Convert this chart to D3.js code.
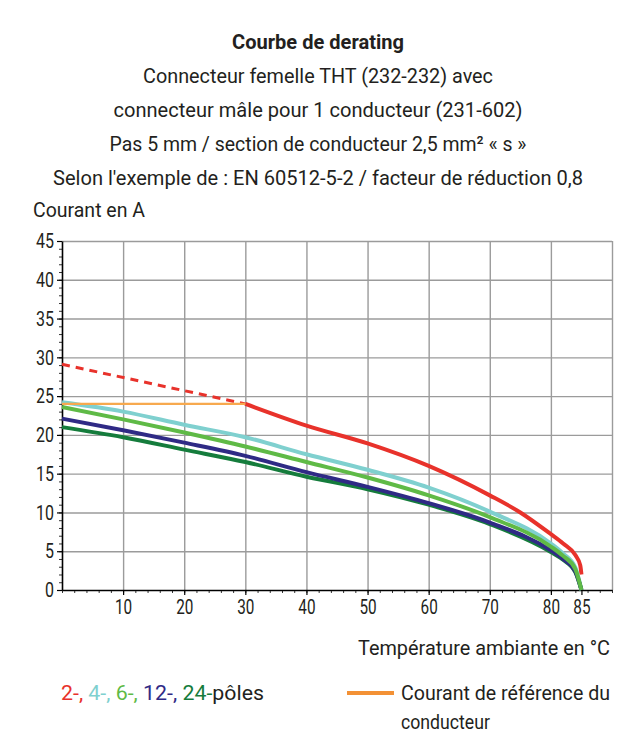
<!DOCTYPE html>
<html>
<head>
<meta charset="utf-8">
<script src="https://cdn.jsdelivr.net/npm/d3@7"></script>
<style>
  body { margin: 0; background: #fff; }
  text { font-family: Roboto, "Liberation Sans", sans-serif; fill: #231f20; }
</style>
</head>
<body>
<div id="chart"></div>
<script>
// data
var xTicks = [10, 20, 30, 40, 50, 60, 70, 80, 85];
var yTicks = [0, 5, 10, 15, 20, 25, 30, 35, 40, 45];

var redDashTemps = [0, 30];
var redDashValues = [29.1, 24.0];
var redTemps = [30, 40, 50, 60, 70, 75, 80, 82, 84, 84.8, 85];
var redValues = [24.0, 21.2, 18.9, 16.0, 12.2, 10.0, 7.2, 6.0, 4.5, 3.2, 2.0];

var poleTemps = [0, 10, 20, 30, 40, 50, 60, 70, 80, 82, 84, 85];
var cyanValues = [24.2, 23.0, 21.3, 19.7, 17.5, 15.5, 13.2, 10.1, 6.0, 4.7, 2.9, 0];
var greenValues = [23.6, 22.0, 20.3, 18.5, 16.5, 14.5, 12.2, 9.4, 5.6, 4.4, 2.7, 0];
var blueValues = [22.1, 20.6, 19.0, 17.3, 15.2, 13.3, 11.2, 8.7, 5.1, 4.0, 2.4, 0];
var darkGreenValues = [21.0, 19.7, 18.1, 16.5, 14.6, 13.0, 11.0, 8.5, 4.9, 3.9, 2.3, 0];

var refTemps = [0, 30];
var refValues = [24, 24];

var titleLines = [
    "Connecteur femelle THT (232-232) avec",
    "connecteur mâle pour 1 conducteur (231-602)",
    "Pas 5 mm / section de conducteur 2,5 mm² « s »",
    "Selon l'exemple de : EN 60512-5-2 / facteur de réduction 0,8"
];
var titleWidths = [350, 409, 417, 530];

var RED = "#e8322b", CYAN = "#7fd0cf", GREEN = "#5fba46", BLUE = "#2f2a85", DKGREEN = "#157c3c", ORANGE = "#f7a94e";
var FS = 21;

document.addEventListener("DOMContentLoaded", function () {
    drawChart();
});

function drawChart() {
    const width = 636, height = 746;
    const left = 62, right = 612, top = 241, bottom = 590;

    var svg = d3.select("#chart")
        .append("svg")
        .attr("width", width)
        .attr("height", height);

    //scales
    var xScale = d3.scaleLinear().domain([0, 90]).range([left, right]);
    var yScale = d3.scaleLinear().domain([0, 45]).range([bottom, top]);

    //titles
    svg.append("text")
        .attr("x", 318).attr("y", 49)
        .attr("text-anchor", "middle")
        .attr("font-size", FS).attr("font-weight", 700)
        .attr("textLength", 172).attr("lengthAdjust", "spacingAndGlyphs")
        .text("Courbe de derating");

    titleLines.forEach(function (t, i) {
        svg.append("text")
            .attr("x", 318).attr("y", 83 + i * 34)
            .attr("text-anchor", "middle")
            .attr("font-size", FS)
            .attr("textLength", titleWidths[i]).attr("lengthAdjust", "spacingAndGlyphs")
            .text(t);
    });

    svg.append("text")
        .attr("x", 33).attr("y", 217)
        .attr("font-size", FS)
        .attr("textLength", 112).attr("lengthAdjust", "spacingAndGlyphs")
        .text("Courant en A");

    //grid lines
    svg.append("g")
        .attr("transform", "translate(0," + bottom + ")")
        .call(d3.axisBottom(xScale).tickValues(d3.range(10, 91, 10)).tickSize(-(bottom - top)).tickFormat(""))
        .call(g => g.select(".domain").remove())
        .call(g => g.selectAll("line").attr("stroke", "#9b9b9b").attr("stroke-width", 1.4));

    svg.append("g")
        .attr("transform", "translate(" + left + ",0)")
        .call(d3.axisLeft(yScale).tickValues(d3.range(5, 46, 5)).tickSize(-(right - left)).tickFormat(""))
        .call(g => g.select(".domain").remove())
        .call(g => g.selectAll("line").attr("stroke", "#9b9b9b").attr("stroke-width", 1.4));

    //minor ticks
    svg.append("g")
        .attr("transform", "translate(0," + bottom + ")")
        .call(d3.axisBottom(xScale).tickValues(d3.range(0, 91, 2)).tickSize(3).tickSizeOuter(0).tickFormat(""))
        .call(g => g.select(".domain").remove())
        .call(g => g.selectAll("line").attr("stroke", "#333").attr("stroke-width", 1));

    svg.append("g")
        .attr("transform", "translate(" + left + ",0)")
        .call(d3.axisLeft(yScale).tickValues(d3.range(0, 46, 1)).tickSize(3).tickSizeOuter(0).tickFormat(""))
        .call(g => g.select(".domain").remove())
        .call(g => g.selectAll("line").attr("stroke", "#333").attr("stroke-width", 1));

    //x axis
    svg.append("g")
        .attr("transform", "translate(0," + bottom + ")")
        .call(d3.axisBottom(xScale).tickValues(xTicks).tickSize(5).tickSizeOuter(0).tickPadding(5))
        .call(g => g.select(".domain").attr("stroke", "#000").attr("stroke-width", 1.6))
        .call(g => g.selectAll("line").attr("stroke", "#000").attr("stroke-width", 1.2))
        .call(g => g.selectAll("text")
            .attr("font-size", FS).attr("fill", "#231f20").attr("dy", "0.68em")
            .attr("textLength", function () { return this.textContent.length * 8.6; })
            .attr("lengthAdjust", "spacingAndGlyphs"));

    //y axis
    svg.append("g")
        .attr("transform", "translate(" + left + ",0)")
        .call(d3.axisLeft(yScale).tickValues(yTicks).tickSize(5).tickSizeOuter(0).tickPadding(3))
        .call(g => g.select(".domain").attr("stroke", "#000").attr("stroke-width", 1.6))
        .call(g => g.selectAll("line").attr("stroke", "#000").attr("stroke-width", 1.2))
        .call(g => g.selectAll("text")
            .attr("font-size", FS).attr("fill", "#231f20")
            .attr("textLength", function () { return this.textContent.length * 9; })
            .attr("lengthAdjust", "spacingAndGlyphs"));

    //curves
    var line = d3.line()
        .x(d => xScale(d[0]))
        .y(d => yScale(d[1]))
        .curve(d3.curveMonotoneX);

    function addCurve(temps, values, color, w, dash) {
        svg.append("path")
            .datum(d3.zip(temps, values))
            .attr("fill", "none")
            .attr("stroke", color)
            .attr("stroke-width", w)
            .attr("stroke-dasharray", dash || null)
            .attr("d", line);
    }

    addCurve(redDashTemps, redDashValues, RED, 3, "8,6");
    addCurve(redTemps, redValues, RED, 4);
    addCurve(poleTemps, cyanValues, CYAN, 4);
    addCurve(poleTemps, darkGreenValues, DKGREEN, 4);
    addCurve(poleTemps, blueValues, BLUE, 4);
    addCurve(poleTemps, greenValues, GREEN, 4);
    addCurve(refTemps, refValues, ORANGE, 2.2);

    //x axis label
    svg.append("text")
        .attr("x", 358).attr("y", 655)
        .attr("font-size", FS)
        .attr("textLength", 252).attr("lengthAdjust", "spacingAndGlyphs")
        .text("Température ambiante en °C");

    //legend
    var legendParts = [["2-, ", RED], ["4-, ", CYAN], ["6-, ", GREEN], ["12-, ", BLUE], ["24-", DKGREEN], ["pôles", "#231f20"]];
    var legendText = svg.append("text")
        .attr("x", 61).attr("y", 700)
        .attr("font-size", FS)
        .attr("textLength", 203).attr("lengthAdjust", "spacingAndGlyphs");
    legendText.selectAll("tspan")
        .data(legendParts)
        .join("tspan")
        .style("fill", d => d[1])
        .text(d => d[0]);

    svg.append("line")
        .attr("x1", 347).attr("x2", 394)
        .attr("y1", 693).attr("y2", 693)
        .attr("stroke", "#f39135").attr("stroke-width", 4);

    svg.append("text")
        .attr("x", 401).attr("y", 700)
        .attr("font-size", FS)
        .attr("textLength", 209).attr("lengthAdjust", "spacingAndGlyphs")
        .text("Courant de référence du");

    svg.append("text")
        .attr("x", 401).attr("y", 729)
        .attr("font-size", FS)
        .attr("textLength", 89).attr("lengthAdjust", "spacingAndGlyphs")
        .text("conducteur");
}
</script>
</body>
</html>
